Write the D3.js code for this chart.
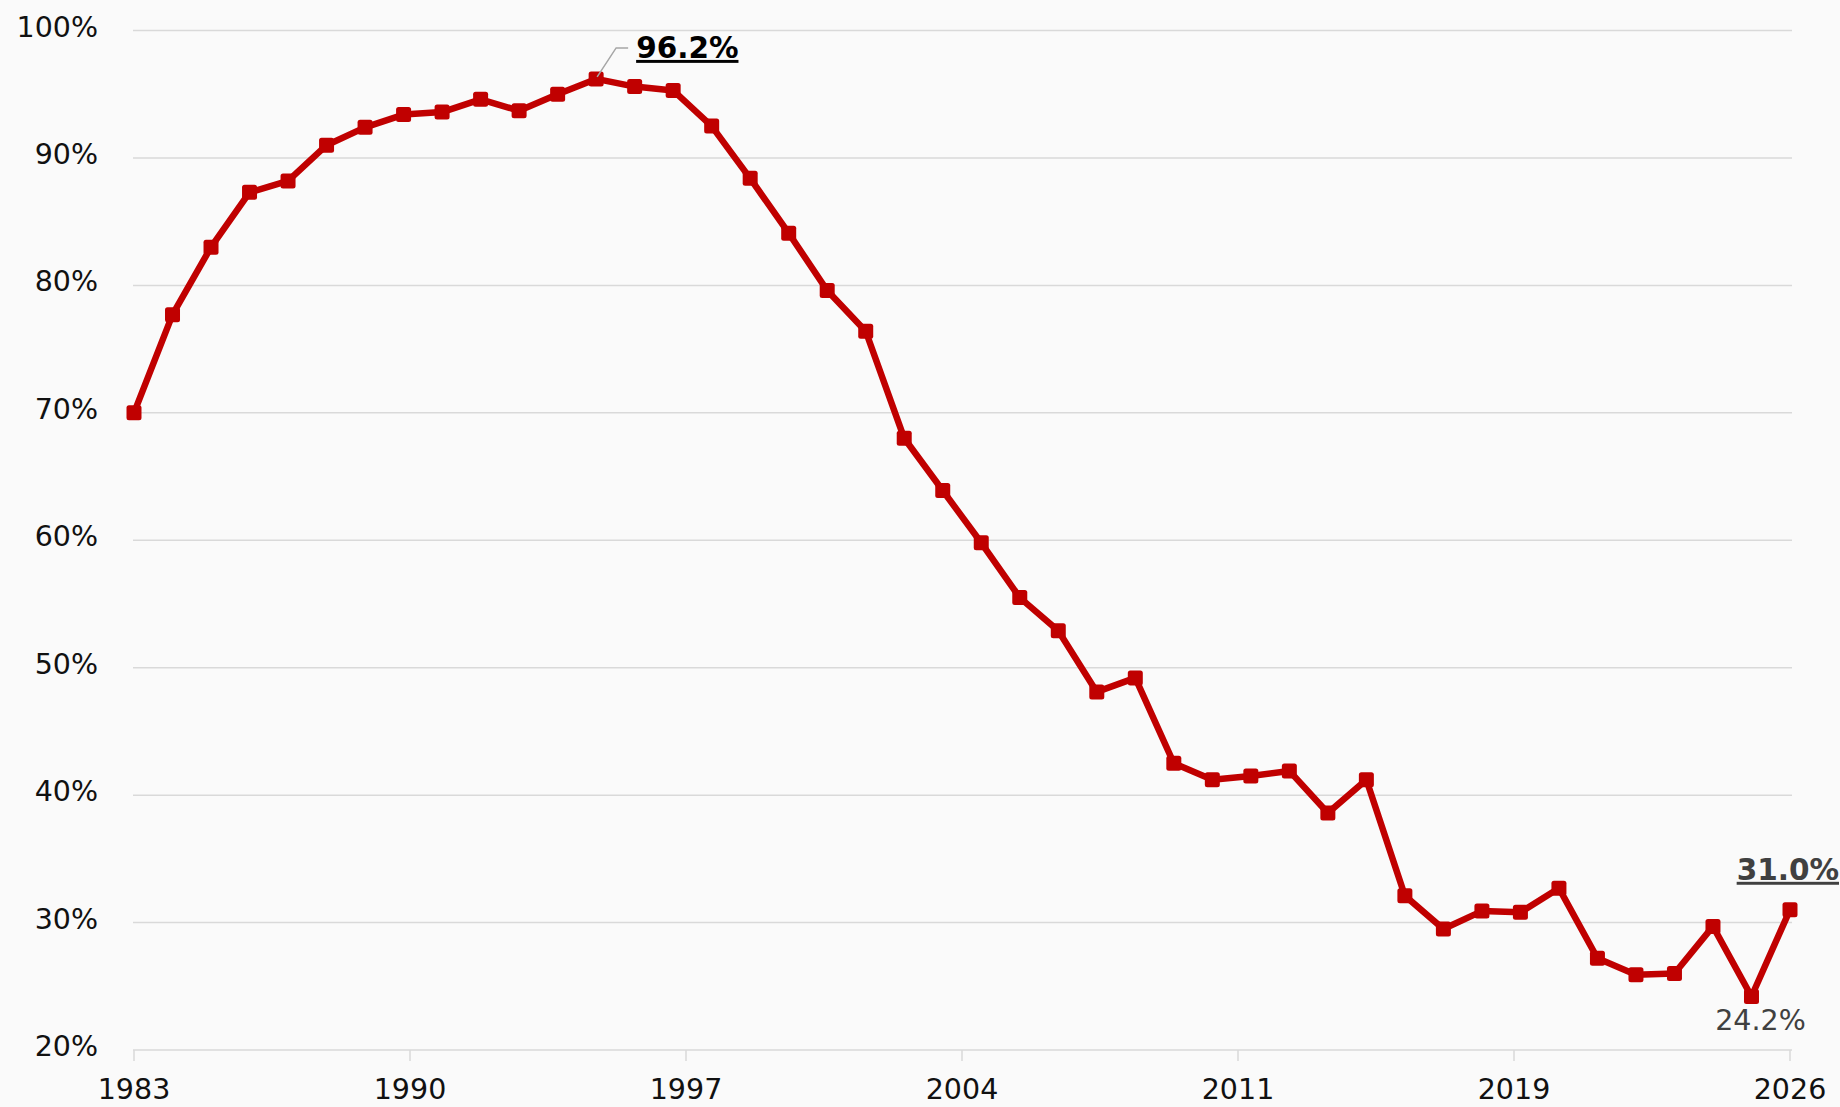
<!DOCTYPE html>
<html lang="en">
<head>
    <meta charset="UTF-8">
    <title>Share over time</title>
    <script src="https://d3js.org/d3.v7.min.js"></script>
    <style type="text/css">
        body {
            margin: 0;
            background-color: #fafafa;
            font-family: "DejaVu Sans", Verdana, sans-serif;
        }
        svg { display: block; }
        .grid line { stroke: #d9d9d9; stroke-width: 1.5; }
        .ylab { font-size: 28.5px; fill: #111; }
        .xlab { font-size: 28.5px; fill: #111; }
    </style>
</head>
<body>
    <div id="chart"></div>
    <script type="text/javascript">
        // Data
        const years = d3.range(1983, 2027);
        const values = [
            70.0, 77.7, 83.0, 87.3, 88.2, 91.0, 92.4, 93.4, 93.6, 94.6,
            93.7, 95.0, 96.2, 95.6, 95.3, 92.5, 88.4, 84.1, 79.6, 76.4,
            68.0, 63.9, 59.8, 55.5, 52.9, 48.1, 49.2, 42.5, 41.2, 41.5,
            41.9, 38.6, 41.2, 32.1, 29.5, 30.9, 30.8, 32.7, 27.2, 25.9,
            26.0, 29.7, 24.2, 31.0
        ];
        const yTicks = [20, 30, 40, 50, 60, 70, 80, 90, 100];
        const xTickLabels = ["1983", "1990", "1997", "2004", "2011", "2019", "2026"];

        const data = years.map((yr, i) => ({year: yr, value: values[i]}));

        const width = 1840, height = 1107;
        const svg = d3.select('#chart').append('svg')
            .attr('width', width)
            .attr('height', height);

        svg.append('rect').attr('width', width).attr('height', height).attr('fill', '#fafafa');

        const x = d3.scaleLinear().domain([1983, 2026]).range([134, 1790]);
        const y = d3.scaleLinear().domain([20, 100]).range([1050, 30.5]);

        // gridlines
        svg.append('g').attr('class', 'grid')
            .selectAll('line').data(yTicks).enter().append('line')
            .attr('x1', 133).attr('x2', 1792)
            .attr('y1', d => y(d)).attr('y2', d => y(d));

        // y labels
        svg.append('g').selectAll('text').data(yTicks).enter().append('text')
            .attr('class', 'ylab')
            .attr('x', 98)
            .attr('y', d => y(d) + 6)
            .attr('text-anchor', 'end')
            .text(d => d + '%');

        // x ticks spread evenly over the range, labelled from the list
        const tickPos = xTickLabels.map((t, i) => 1983 + i * 43 / (xTickLabels.length - 1));
        const xt = svg.append('g').selectAll('g').data(tickPos).enter().append('g')
            .attr('transform', d => `translate(${x(d)},0)`);
        xt.append('line')
            .attr('y1', y(20)).attr('y2', y(20) + 11)
            .attr('stroke', '#d9d9d9').attr('stroke-width', 1.5);
        xt.append('text')
            .attr('class', 'xlab')
            .attr('y', 1099)
            .attr('text-anchor', 'middle')
            .text((d, i) => xTickLabels[i]);

        // line
        const line = d3.line().x(d => x(d.year)).y(d => y(d.value));
        svg.append('path').datum(data)
            .attr('fill', 'none')
            .attr('stroke', '#c00000')
            .attr('stroke-width', 6.5)
            .attr('stroke-linejoin', 'round')
            .attr('d', line);

        // square markers
        const ms = 15;
        svg.append('g').selectAll('rect').data(data).enter().append('rect')
            .attr('x', d => x(d.year) - ms / 2)
            .attr('y', d => y(d.value) - ms / 2)
            .attr('width', ms).attr('height', ms)
            .attr('rx', 2.5)
            .attr('fill', '#c00000');

        // peak label with leader line
        const peak = data.find(d => d.year === 1995);
        const px = x(peak.year), py = y(peak.value);
        svg.append('path')
            .attr('d', `M${px + 1},${py - 2} L${px + 20},${py - 31} L${px + 32},${py - 31}`)
            .attr('fill', 'none').attr('stroke', '#a6a6a6').attr('stroke-width', 1.5);
        svg.append('text')
            .attr('x', px + 40).attr('y', py - 21)
            .attr('font-size', 29.5).attr('font-weight', 'bold')
            .attr('fill', '#000')
            .attr('text-decoration', 'underline')
            .text(peak.value.toFixed(1) + '%');

        // last value label
        const last = data[data.length - 1];
        svg.append('text')
            .attr('x', 1839).attr('y', y(last.value) - 30)
            .attr('text-anchor', 'end')
            .attr('font-size', 29.5).attr('font-weight', 'bold')
            .attr('fill', '#404040')
            .attr('text-decoration', 'underline')
            .text(last.value.toFixed(1) + '%');

        // low point label
        const low = data.find(d => d.year === 2025);
        svg.append('text')
            .attr('x', x(low.year) + 9).attr('y', y(low.value) + 34)
            .attr('text-anchor', 'middle')
            .attr('font-size', 28.5)
            .attr('fill', '#404040')
            .text(low.value.toFixed(1) + '%');
    </script>
</body>
</html>
